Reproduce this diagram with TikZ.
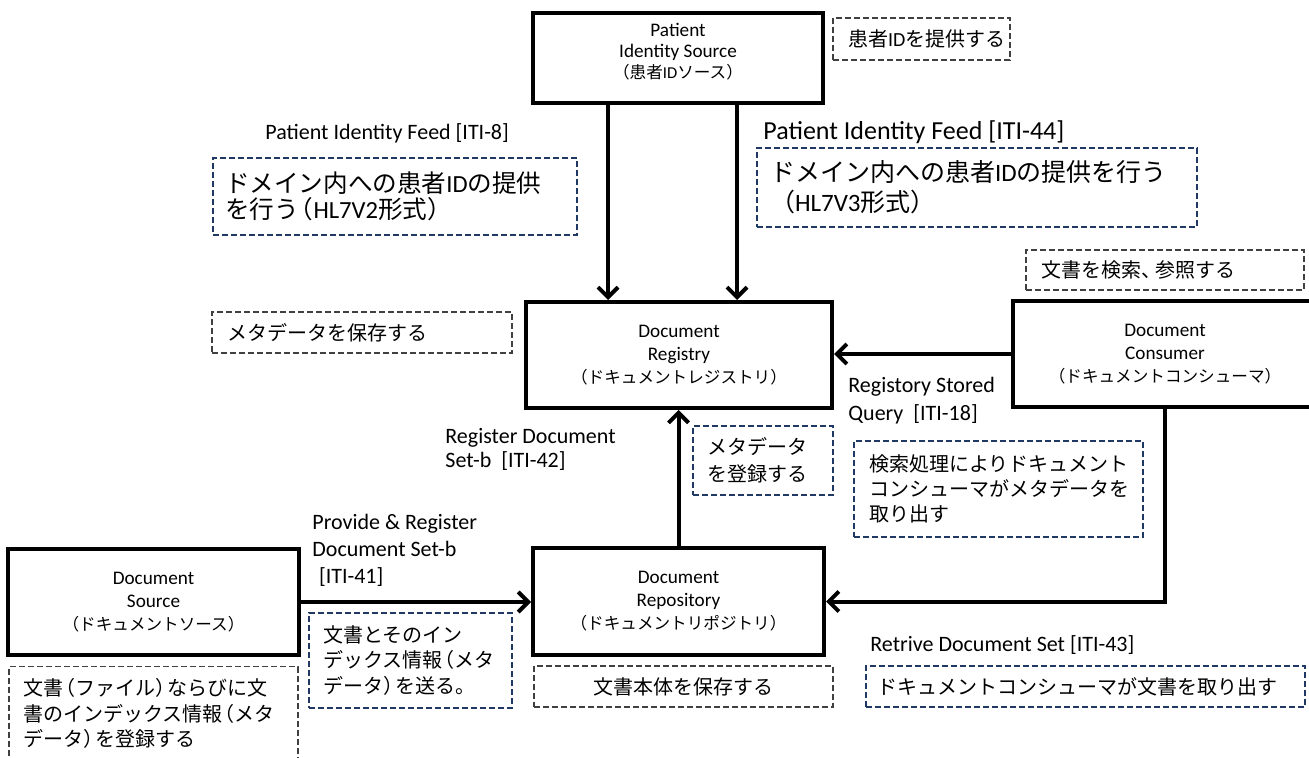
\documentclass[tikz,border=0pt]{standalone}
\usepackage{fontspec}
\setmainfont{Carlito}
\newfontfamily\jp{Noto Sans CJK JP}
\usetikzlibrary{arrows.meta}
\definecolor{notegray}{HTML}{404040}
\definecolor{noteblue}{HTML}{203864}
% Japanese run inside Latin text
\newcommand\J[1]{{\jp #1}}
% smaller Japanese line inside an actor box
\newcommand\JL[1]{{\fontsize{8.3}{11.5}\selectfont #1}}
% tighter full-width parentheses inside running Japanese text
\newcommand\lp{\hspace{-0.4em}（}
\newcommand\rp{）\hspace{-0.4em}}

\begin{document}
\begin{tikzpicture}[x=0.5pt,y=-0.5pt,
  actor/.style={draw=black, line width=2pt, fill=white, align=center,
    inner sep=0pt, font=\fontsize{9.6}{11.5}\selectfont},
  link/.style={line width=2pt, -{Straight Barb[length=5pt,width=10pt]}},
  note/.style={dash pattern=on 3pt off 1.5pt, line width=0.6pt, align=left,
    inner ysep=0pt, anchor=center, font=\fontsize{10}{12.7}\selectfont},
  graynote/.style={note, draw=notegray},
  bluenote/.style={note, draw=noteblue},
  lab/.style={inner sep=0pt, anchor=west, align=left,
    font=\fontsize{11}{13.5}\selectfont}]

\useasboundingbox (0,0) rectangle (1309,758);
\clip (0,0) rectangle (1309,758);

% ---- actors ----
\node[actor, minimum width=145pt, minimum height=45pt, font=\fontsize{9.6}{10.5}\selectfont] (pis) at (678,58)
  {Patient\\Identity Source\\{\fontsize{8.3}{10.5}\selectfont\J{（患者}ID\J{ソース）}}\rule[-7pt]{0pt}{7pt}};
\node[actor, minimum width=153pt, minimum height=53pt] (reg) at (679,355)
  {Document\\Registry\\\JL{\J{（ドキュメントレジストリ）}}};
\node[actor, minimum width=152pt, minimum height=53pt] (con) at (1165,354)
  {Document\\Consumer\\\JL{\J{（ドキュメントコンシューマ）}}};
\node[actor, minimum width=145.5pt, minimum height=53.5pt] (rep) at (678.5,601.5)
  {Document\\Repository\\\JL{\J{（ドキュメントリポジトリ）}}};
\node[actor, minimum width=145.5pt, minimum height=53pt] (src) at (153.5,602)
  {Document\\Source\\\JL{\J{（ドキュメントソース）}}};

% ---- transactions ----
\draw[link] ([xshift=-35pt]pis.south) -- ([xshift=-35pt]pis.south |- reg.north);
\draw[link] ([xshift=29.5pt]pis.south) -- ([xshift=29.5pt]pis.south |- reg.north);
\draw[link] (con.west) -- (con.west -| reg.east);
\draw[link] (rep.north) -- (rep.north |- reg.south);
\draw[link] (src.east) -- (src.east -| rep.west);
\draw[link] (con.south) |- (rep.east);

% ---- transaction labels ----
\node[lab] (f8) at (265,133) {Patient Identity Feed [ITI-8]};
\node[lab, font=\fontsize{13}{16}\selectfont] (f44) at (763,132) {Patient Identity Feed [ITI-44]};
\node[lab, font=\fontsize{11}{14}\selectfont] (q18) at (848,401) {Registory Stored\\Query\ \ [ITI-18]};
\node[lab, font=\fontsize{11}{12}\selectfont] (r42) at (445,449) {Register Document\\Set-b\ \ [ITI-42]};
\node[lab] (p41) at (312,550) {Provide \& Register\\Document Set-b\\\hspace*{0.3em}[ITI-41]};
\node[lab] (r43) at (870,645) {Retrive Document Set [ITI-43]};

% ---- notes ----
\node[graynote, inner xsep=7.5pt, text width=73.5pt, minimum height=21pt] (n1) at (921.5,39)
  {\J{患者}ID\J{を提供する}};
\node[bluenote, inner xsep=6pt, text width=170pt, minimum height=38.5pt,
  font=\fontsize{12.3}{13}\selectfont] (n2) at (395,196.5)
  {\J{ドメイン内への患者}ID\J{の提供}\\\J{を行う\lp}HL7V2\J{形式）}};
\node[bluenote, inner xsep=6.5pt, text width=207pt, minimum height=39.5pt,
  font=\fontsize{12.5}{15}\selectfont] (n3) at (977,187.5)
  {\J{ドメイン内への患者}ID\J{の提供を行う}\\\J{（}HL7V3\J{形式）}};
\node[graynote, inner xsep=7.5pt, text width=124pt, minimum height=20pt] (n4) at (1165,270)
  {\J{文書を検索、\hspace{-0.3em}参照する}};
\node[graynote, inner xsep=7.5pt, text width=135pt, minimum height=20.5pt] (n5) at (362,332.5)
  {\J{メタデータを保存する}};
\node[bluenote, inner xsep=7pt, text width=56pt, minimum height=34.5pt,
  font=\fontsize{10}{13.5}\selectfont] (n6) at (763,460.5)
  {\J{メタデータ}\\\J{を登録する}};
\node[bluenote, inner xsep=7.5pt, text width=129.5pt, minimum height=48pt,
  font=\fontsize{10}{12.5}\selectfont] (n7) at (998.5,489)
  {\J{検索処理によりドキュメント}\\\J{コンシューマがメタデータを}\\\J{取り出す}};
\node[bluenote, inner xsep=7pt, text width=87.5pt, minimum height=47.5pt] (n8) at (410.5,660.5)
  {\J{文書とそのイン}\\\J{デックス情報\lp メタ}\\\J{データ\rp を送る。}};
\node[graynote, align=center, inner xsep=7.5pt, text width=134.5pt, minimum height=20.5pt] (n9) at (683.5,686.5)
  {\J{文書本体を保存する}};
\node[bluenote, inner xsep=5.5pt, text width=208.5pt, minimum height=20.5pt] (n10) at (1085.5,686.5)
  {\J{ドキュメントコンシューマが文書を取り出す}};
\node[graynote, anchor=north, inner xsep=7pt, inner ysep=6pt, text width=130.5pt] (n11) at (153.5,666)
  {\J{文書\lp ファイル\rp ならびに文}\\\J{書のインデックス情報\lp メタ}\\\J{データ\rp を登録する}\rule[-15pt]{0pt}{1pt}};

\end{tikzpicture}
\end{document}
